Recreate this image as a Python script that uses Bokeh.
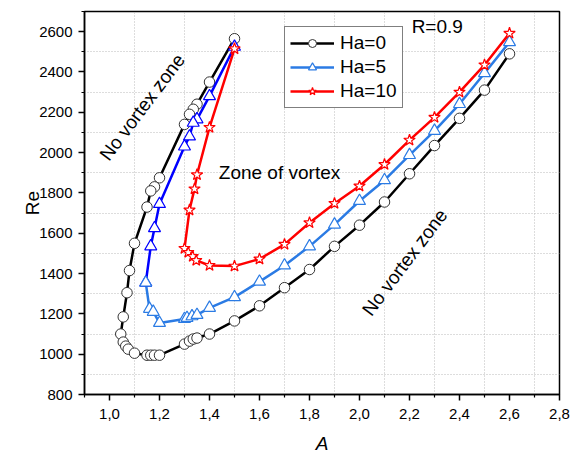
from bokeh.plotting import figure
from bokeh.models import (Range1d, SingleIntervalTicker, FixedTicker, CustomJSTickFormatter,
                          Legend, LegendItem, Label, Title)
from bokeh.embed import file_html
from bokeh.resources import INLINE

# ---------------- data ----------------
ha0_A = [1.5, 1.4, 1.35, 1.335, 1.32, 1.3, 1.2, 1.18, 1.165, 1.15, 1.1, 1.08, 1.07, 1.055, 1.045,
         1.055, 1.065, 1.075, 1.1, 1.15, 1.165, 1.18, 1.2, 1.3, 1.32, 1.335, 1.35, 1.4, 1.5,
         1.6, 1.7, 1.8, 1.9, 2.0, 2.1, 2.2, 2.3, 2.4, 2.5, 2.6]
ha0_Re = [2565, 2350, 2240, 2215, 2190, 2140, 1875, 1830, 1810, 1730, 1550, 1415, 1305, 1185, 1100,
          1060, 1040, 1025, 1005, 995, 995, 995, 995, 1050, 1065, 1075, 1080, 1100, 1165,
          1240, 1330, 1420, 1535, 1640, 1755, 1895, 2035, 2170, 2310, 2490]

ha5_up_A = [1.5, 1.4, 1.35, 1.335, 1.32, 1.3, 1.2, 1.18, 1.165, 1.145]
ha5_up_Re = [2525, 2280, 2165, 2148, 2080, 2030, 1745, 1625, 1535, 1355]
ha5_lo_A = [1.145, 1.16, 1.175, 1.2, 1.3, 1.31, 1.33, 1.35, 1.4, 1.5, 1.6, 1.7, 1.8, 1.9, 2.0,
            2.1, 2.2, 2.3, 2.4, 2.5, 2.6]
ha5_lo_Re = [1355, 1225, 1210, 1155, 1175, 1180, 1188, 1195, 1230, 1283, 1360, 1440, 1535, 1643,
             1760, 1863, 1988, 2108, 2241, 2394, 2548]

ha10_A = [1.5, 1.4, 1.35, 1.34, 1.32, 1.3, 1.315, 1.333, 1.347, 1.4, 1.5, 1.6, 1.7, 1.8, 1.9, 2.0,
          2.1, 2.2, 2.3, 2.4, 2.5, 2.6]
ha10_Re = [2515, 2125, 1890, 1820, 1715, 1525, 1505, 1485, 1465, 1440, 1437, 1472, 1545, 1652, 1748,
           1834, 1941, 2062, 2175, 2300, 2435, 2592]

x_ticks = [1.0, 1.2, 1.4, 1.6, 1.8, 2.0, 2.2, 2.4, 2.6, 2.8]
x_minor = [0.9, 1.1, 1.3, 1.5, 1.7, 1.9, 2.1, 2.3, 2.5, 2.7]
x_grid = [1.1, 1.3, 1.5, 1.7, 1.9, 2.1, 2.3, 2.5, 2.7]
y_grid = [900, 1100, 1300, 1500, 1700, 1900, 2100, 2300, 2500]

FONT = "Liberation Sans"

p = figure(width=573, height=457, output_backend="svg", toolbar_location=None,
           x_range=Range1d(0.9, 2.8), y_range=Range1d(800, 2700),
           min_border_left=84, min_border_right=14, min_border_top=11, min_border_bottom=63)
p.background_fill_color = "white"
p.border_fill_color = "white"
p.outline_line_color = "black"
p.outline_line_width = 1.5

# axes
p.xaxis.ticker = FixedTicker(ticks=x_ticks, minor_ticks=x_minor)
p.yaxis.ticker = SingleIntervalTicker(interval=200, num_minor_ticks=2)
p.xaxis.formatter = CustomJSTickFormatter(code="return tick.toFixed(1).replace('.', ',');")
for ax in (p.xaxis[0], p.yaxis[0]):
    ax.axis_line_width = 1.5
    ax.axis_line_color = "black"
    ax.major_tick_line_width = 1.5
    ax.minor_tick_line_width = 1.2
    ax.major_tick_out = 6
    ax.major_tick_in = 0
    ax.minor_tick_out = 3
    ax.minor_tick_in = 0
    ax.major_label_text_font = FONT
    ax.major_label_text_font_size = "15px"
    ax.major_label_text_color = "black"
p.xaxis.major_label_standoff = 8
p.yaxis.major_label_standoff = 6
p.yaxis.axis_label = "Re"
p.yaxis.axis_label_text_font = FONT
p.yaxis.axis_label_text_font_size = "19px"
p.yaxis.axis_label_text_font_style = "normal"
p.yaxis.axis_label_text_color = "black"
p.yaxis.axis_label_standoff = -7

# x axis title as title panels below the axis (a small blank spacer, then "A")
p.add_layout(Title(text=" ", text_font=FONT, text_font_size="7px", standoff=0), "below")
p.add_layout(Title(text="A", align="center", text_font=FONT, text_font_size="19px",
                   text_font_style="italic", text_color="black", standoff=0), "below")

# grid
p.xgrid.ticker = FixedTicker(ticks=x_grid)
p.ygrid.ticker = FixedTicker(ticks=y_grid)
for g in (p.xgrid[0], p.ygrid[0]):
    g.grid_line_color = "#bbbbbb"
    g.grid_line_dash = "1 2"
    g.grid_line_width = 1

# series
l0 = p.line(ha0_A, ha0_Re, line_color="black", line_width=2.5)
s0 = p.scatter(ha0_A, ha0_Re, marker="circle", size=10.5, fill_color="white",
               line_color="#333333", line_width=1)

BLUE_DARK = "#0000ff"
BLUE_LIGHT = "#2b7be4"
l5u = p.line(ha5_up_A, ha5_up_Re, line_color=BLUE_DARK, line_width=2.5)
l5l = p.line(ha5_lo_A, ha5_lo_Re, line_color=BLUE_LIGHT, line_width=2.5)
s5u = p.scatter(ha5_up_A, ha5_up_Re, marker="triangle", size=12, fill_color="white",
                line_color=BLUE_DARK, line_width=1.2)
s5l = p.scatter(ha5_lo_A, ha5_lo_Re, marker="triangle", size=12, fill_color="white",
                line_color=BLUE_LIGHT, line_width=1.2)

l10 = p.line(ha10_A, ha10_Re, line_color="#ff0000", line_width=2.5)
s10 = p.scatter(ha10_A, ha10_Re, marker="star", size=12, fill_color="white",
                line_color="#ff0000", line_width=1.2)

legend = Legend(items=[LegendItem(label="Ha=0", renderers=[l0, s0]),
                       LegendItem(label="Ha=5", renderers=[l5l, s5l]),
                       LegendItem(label="Ha=10", renderers=[l10, s10])],
                location=(200, 286))
legend.border_line_color = "black"
legend.border_line_width = 1
legend.background_fill_color = "white"
legend.background_fill_alpha = 1
legend.label_text_font = FONT
legend.label_text_font_size = "19px"
legend.label_text_color = "black"
legend.glyph_width = 44
legend.glyph_height = 20
legend.label_standoff = 6
legend.spacing = 2
legend.padding = 5
legend.margin = 0
legend.label_height = 20
p.add_layout(legend, "center")

# annotations
def add_label(x, y, text, angle=0.0):
    p.add_layout(Label(x=x, y=y, text=text, angle=angle, angle_units="deg",
                       text_font=FONT, text_font_size="19px", text_color="black",
                       text_align="center", text_baseline="middle"))

add_label(1.131, 2226, "No vortex zone", 53)
add_label(2.181, 1456, "No vortex zone", 53)
add_label(1.68, 1903, "Zone of vortex")
add_label(2.311, 2624, "R=0.9")

open("out.html", "w").write(file_html(p, INLINE))
